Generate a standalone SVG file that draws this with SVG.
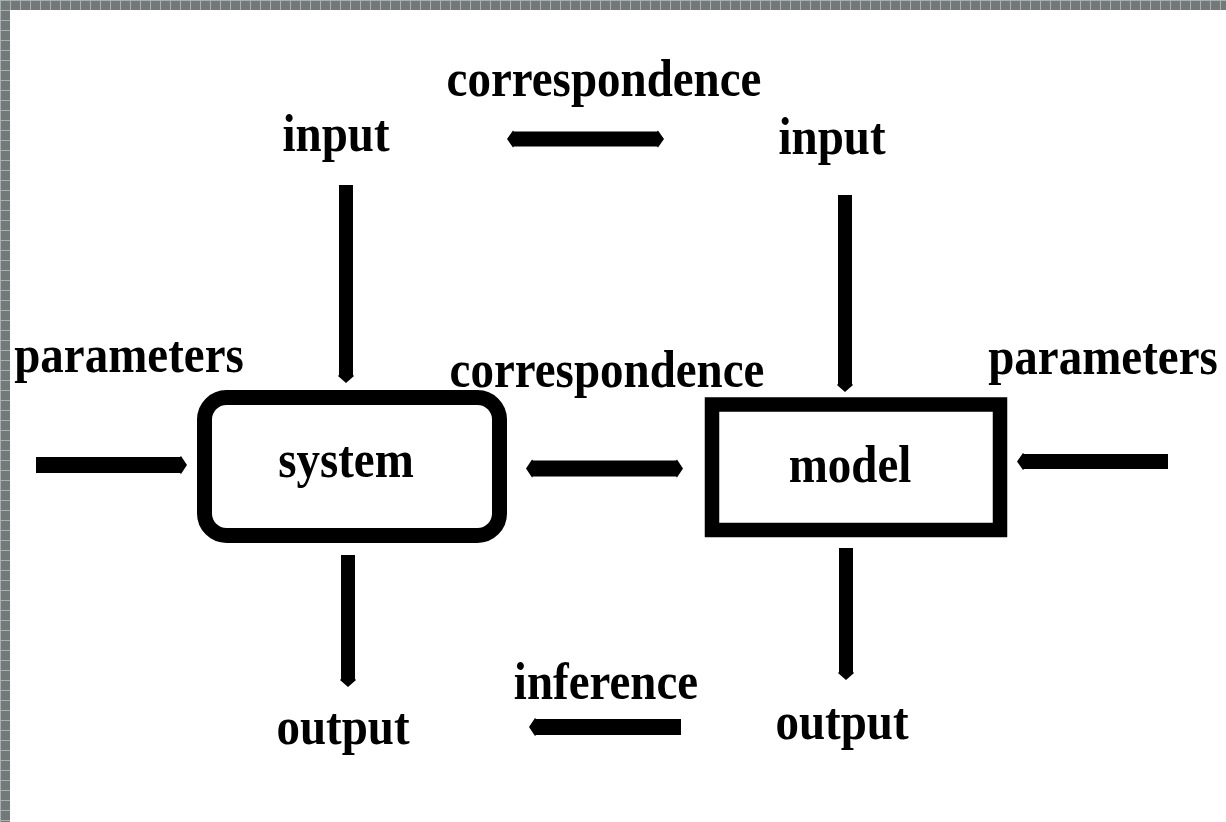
<svg xmlns="http://www.w3.org/2000/svg" width="1226" height="822" viewBox="0 0 1226 822">
<style>
.lbl{font-family:"Liberation Serif","Times New Roman",serif;font-weight:bold;font-size:47px;fill:#000;text-anchor:middle}
.box{fill:#fff;stroke:#000}
.arr{fill:#000}
</style>
<defs>
<pattern id="grid" width="10" height="10" patternUnits="userSpaceOnUse">
<rect width="10" height="10" fill="#737878"/>
<rect x="0" y="0" width="10" height="1" fill="#a9afaf"/>
<rect x="0" y="0" width="1" height="10" fill="#a9afaf"/>
</pattern>
</defs>
<rect width="1226" height="822" fill="#fff"/>
<rect x="0" y="0" width="1226" height="10" fill="url(#grid)"/>
<rect x="0" y="0" width="10" height="822" fill="url(#grid)"/>

<g id="connectors">
<polygon class="arr" points="339,185 353,185 353,375 354,376 346,383 338,376 339,375"/>
<polygon class="arr" points="838,195 852,195 852,384 853,385 845,392 837,385 838,384"/>
<polygon class="arr" points="341,555 355,555 355,679 356,680 348,687 340,680 341,679"/>
<polygon class="arr" points="839,548 853,548 853,672 854,673 846,680 838,673 839,672"/>
<polygon class="arr" points="36,457 180,457 181,456 187,465 181,474 180,473 36,473"/>
<polygon class="arr" points="1168,454 1024,454 1023,453 1017,461.5 1023,470 1024,469 1168,469"/>
<polygon class="arr" points="533,460.5 676,460.5 677,459.5 683,468.5 677,477.5 676,476.5 533,476.5 532,477.5 526,468.5 532,459.5"/>
<polygon class="arr" points="514,131.5 657,131.5 658,130.5 664,139 658,147.5 657,146.5 514,146.5 513,147.5 507,139 513,130.5"/>
<polygon class="arr" points="681,719 536,719 535,718 529,727 535,736 536,735 681,735"/>
</g>

<g id="system">
<rect class="box" x="204.5" y="397.5" width="295" height="138" rx="22" stroke-width="15"/>
<text class="lbl" transform="translate(346 477) scale(1 1.12)">system</text>
</g>
<g id="model">
<rect class="box" x="712" y="404.5" width="288" height="125.5" stroke-width="14.5"/>
<text class="lbl" transform="translate(850 482) scale(1 1.12)">model</text>
</g>

<g id="labels">
<text class="lbl" transform="translate(604 96) scale(1 1.12)">correspondence</text>
<text class="lbl" transform="translate(336 151) scale(1 1.12)">input</text>
<text class="lbl" transform="translate(832 154) scale(1 1.12)">input</text>
<text class="lbl" transform="translate(129 372) scale(1 1.12)">parameters</text>
<text class="lbl" transform="translate(607 387) scale(1 1.12)">correspondence</text>
<text class="lbl" transform="translate(1103 374) scale(1 1.12)">parameters</text>
<text class="lbl" transform="translate(606 699) scale(1 1.12)">inference</text>
<text class="lbl" transform="translate(343 744) scale(1 1.12)">output</text>
<text class="lbl" transform="translate(842 739) scale(1 1.12)">output</text>
</g>
</svg>
